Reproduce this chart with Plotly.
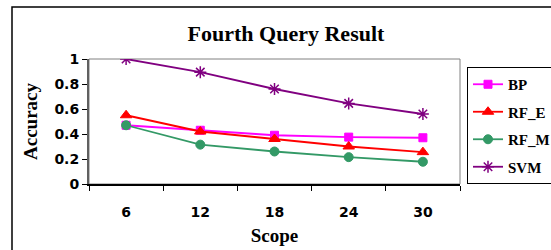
import plotly.graph_objects as go

scope = ["6", "12", "18", "24", "30"]
bp = [0.47, 0.43, 0.39, 0.375, 0.37]
rf_e = [0.55, 0.42, 0.36, 0.30, 0.255]
rf_m = [0.47, 0.315, 0.26, 0.215, 0.178]
svm = [1.0, 0.895, 0.76, 0.645, 0.56]

W, H = 551, 250
L, R, T, B = 89, W - 460, 59, H - 184
pw, ph = 460 - L, 184 - T

fig = go.Figure()
series = [
    ("BP", bp, "#FF00FF", "square", 8, 1),
    ("RF_E", rf_e, "#FF0000", "triangle-up", 10, 1),
    ("RF_M", rf_m, "#339966", "circle", 9, 1),
    ("SVM", svm, "#800080", "asterisk-open", 10, 1.5),
]
for i, (name, vals, col, sym, sz, lw) in enumerate(series):
    fig.add_trace(go.Scatter(
        x=scope, y=vals, name=name, mode="lines+markers",
        line=dict(color=col, width=1.8),
        marker=dict(symbol=sym, size=sz, color=col, line=dict(color=col, width=lw)),
        legendgroup=name,
    ))

def px_x(x):
    return (x - L) / pw

def px_y(y):
    return (184 - y) / ph

shapes = [
    dict(type="rect", xref="paper", yref="paper", x0=px_x(12), x1=px_x(600),
         y0=px_y(300), y1=px_y(7), line=dict(color="black", width=1.5), layer="below"),
    dict(type="rect", xref="paper", yref="paper", x0=0, x1=1, y0=0, y1=1,
         line=dict(color="#808080", width=1), layer="below"),
]

tickfont = dict(family="DejaVu Sans", size=14, color="black", weight="bold")

fig.update_layout(
    width=W, height=H,
    margin=dict(l=L, r=R, t=T, b=B, autoexpand=False),
    paper_bgcolor="white", plot_bgcolor="white",
    shapes=shapes,
    title=dict(text="<b>Fourth Query Result</b>", x=286 / W, xref="container",
               y=1 - 33 / H, yref="container", xanchor="center", yanchor="middle",
               font=dict(family="Liberation Serif", size=22, color="black")),
    showlegend=True,
    legend=dict(x=px_x(467), y=px_y(67), xanchor="left", yanchor="top",
                bordercolor="black", borderwidth=1, bgcolor="white",
                font=dict(family="Liberation Serif", size=15, color="black", weight="bold"),
                traceorder="grouped", tracegroupgap=5, itemwidth=30),
    xaxis=dict(type="category", range=[-0.5, 4.5], tickson="boundaries",
               ticks="outside", ticklen=5, tickcolor="black",
               showline=True, linecolor="black", linewidth=1.5,
               showgrid=False, zeroline=False,
               ticklabelstandoff=14,
               tickfont=tickfont,
               title=dict(text="<b>Scope</b>", standoff=10,
                          font=dict(family="Liberation Serif", size=19, color="black"))),
    yaxis=dict(range=[0, 1], tickvals=[0, 0.2, 0.4, 0.6, 0.8, 1],
               ticktext=["0", "0.2", "0.4", "0.6", "0.8", "1"],
               ticks="outside", ticklen=5, tickcolor="black",
               showline=True, linecolor="#606060", linewidth=2,
               showgrid=False, zeroline=False,
               tickfont=tickfont,
               title=dict(text="<b>Accuracy</b>", standoff=12,
                          font=dict(family="Liberation Serif", size=19, color="black"))),
)

fig.write_html("out.html", config={"displayModeBar": False},
               post_script="document.body.style.margin='0';document.body.style.overflow='hidden';")
